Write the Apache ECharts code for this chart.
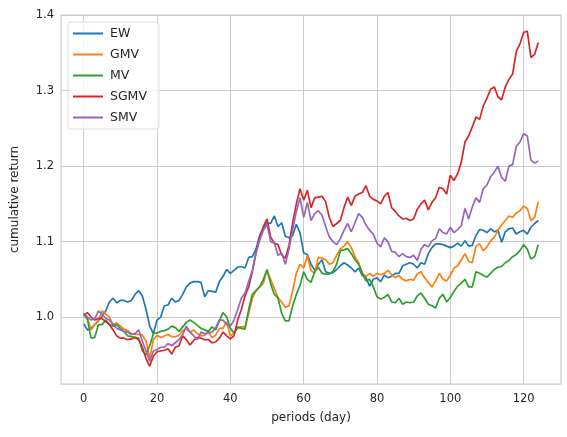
<!DOCTYPE html>
<html>
<head>
<meta charset="utf-8">
<script src="https://cdn.jsdelivr.net/npm/echarts@6/dist/echarts.min.js"></script>
<style>
  html, body { margin: 0; padding: 0; background: #fff; }
  #chart { width: 567px; height: 437px; }
</style>
</head>
<body>
<div id="chart"></div>
<script>
// series values, one value per day (0..124)
const EW = [
  0.991, 0.983, 0.985, 0.990, 0.995, 1.001, 1.008, 1.020, 1.025, 1.019,
  1.022, 1.022, 1.020, 1.022, 1.030, 1.035, 1.028, 1.010, 0.988, 0.978,
  0.996, 1.000, 1.015, 1.016, 1.025, 1.020, 1.022, 1.030, 1.040, 1.045,
  1.047, 1.047, 1.046, 1.027, 1.035, 1.034, 1.033, 1.047, 1.054, 1.063,
  1.058, 1.062, 1.066, 1.067, 1.065, 1.079, 1.080, 1.090, 1.108, 1.118,
  1.125, 1.124, 1.134, 1.120, 1.125, 1.107, 1.105, 1.108, 1.123, 1.112,
  1.085, 1.083, 1.070, 1.062, 1.070, 1.076, 1.060, 1.058, 1.059, 1.063,
  1.068, 1.072, 1.069, 1.065, 1.060, 1.065, 1.055, 1.052, 1.041, 1.050,
  1.052, 1.047, 1.056, 1.052, 1.054, 1.058, 1.058, 1.068, 1.070, 1.072,
  1.070, 1.065, 1.072, 1.070, 1.084, 1.092, 1.097, 1.097, 1.096, 1.094,
  1.092, 1.094, 1.098, 1.094, 1.101, 1.094, 1.095, 1.108, 1.116, 1.115,
  1.112, 1.117, 1.113, 1.115, 1.099, 1.113, 1.117, 1.118, 1.110, 1.113,
  1.115, 1.110, 1.119, 1.124, 1.128
];
const GMV = [
  1.005, 0.998, 0.983, 0.990, 0.996, 1.008, 1.004, 1.000, 0.990, 0.992,
  0.988, 0.984, 0.982, 0.978, 0.977, 0.977, 0.976, 0.968, 0.945, 0.970,
  0.976, 0.973, 0.975, 0.977, 0.974, 0.974, 0.976, 0.982, 0.984, 0.980,
  0.983, 0.978, 0.975, 0.976, 0.980, 0.973, 0.976, 0.985, 0.985, 0.994,
  0.975, 0.979, 0.985, 0.987, 0.987, 1.005, 1.025, 1.035, 1.040, 1.045,
  1.062, 1.050, 1.038, 1.026, 1.020, 1.013, 1.015, 1.035, 1.058, 1.070,
  1.065, 1.081, 1.062, 1.058, 1.079, 1.078, 1.076, 1.070, 1.072, 1.082,
  1.090, 1.094, 1.100, 1.092, 1.080, 1.072, 1.058, 1.054, 1.058, 1.054,
  1.058, 1.056, 1.058, 1.062, 1.056, 1.052, 1.055, 1.050, 1.048, 1.050,
  1.049, 1.057, 1.060, 1.052, 1.046, 1.040, 1.048, 1.058, 1.050, 1.048,
  1.055, 1.065, 1.068, 1.076, 1.084, 1.074, 1.072, 1.094, 1.097, 1.088,
  1.093, 1.101, 1.106, 1.115, 1.122, 1.128, 1.134, 1.132, 1.138, 1.141,
  1.147, 1.144, 1.128, 1.132, 1.153
];
const MV = [
  1.004, 0.997, 0.972, 0.973, 0.990, 0.990, 0.996, 0.990, 0.988, 0.990,
  0.985, 0.981, 0.975, 0.974, 0.973, 0.972, 0.955, 0.950, 0.962, 0.978,
  0.979, 0.981, 0.982, 0.984, 0.988, 0.986, 0.981, 0.987, 0.993, 0.996,
  0.993, 0.989, 0.985, 0.983, 0.981, 0.987, 0.983, 0.995, 1.006, 1.000,
  0.985, 0.979, 0.987, 0.985, 0.984, 1.010, 1.030, 1.035, 1.040, 1.050,
  1.063, 1.044, 1.030, 1.025, 1.005, 0.995, 0.995, 1.015, 1.030, 1.042,
  1.060, 1.050, 1.046, 1.060, 1.066, 1.058, 1.057, 1.057, 1.061, 1.070,
  1.088, 1.089, 1.091, 1.084, 1.076, 1.070, 1.058, 1.048, 1.050, 1.040,
  1.027, 1.024, 1.026, 1.030, 1.020, 1.019, 1.025, 1.017, 1.020, 1.019,
  1.020, 1.028, 1.032, 1.025, 1.017, 1.015, 1.012, 1.025, 1.030, 1.020,
  1.026, 1.034, 1.041, 1.045, 1.050, 1.040, 1.040, 1.060, 1.058, 1.055,
  1.053, 1.058, 1.063, 1.066, 1.067, 1.072, 1.075, 1.080, 1.083, 1.088,
  1.096, 1.090, 1.077, 1.080, 1.096
];
const SGMV = [
  1.002, 1.006, 1.000, 0.996, 0.998, 0.998, 0.994, 0.990, 0.983, 0.975,
  0.972, 0.972, 0.970, 0.971, 0.973, 0.970, 0.960, 0.945, 0.935, 0.948,
  0.954, 0.955, 0.956, 0.958, 0.951, 0.960, 0.962, 0.975, 0.970, 0.963,
  0.969, 0.973, 0.972, 0.970, 0.970, 0.966, 0.967, 0.972, 0.980, 0.975,
  0.971, 0.975, 0.996, 1.010, 1.028, 1.040, 1.060, 1.085, 1.106, 1.120,
  1.130, 1.106, 1.098, 1.096, 1.082, 1.078, 1.095, 1.125, 1.150, 1.170,
  1.155, 1.168, 1.145, 1.158, 1.159, 1.160, 1.153, 1.132, 1.120, 1.124,
  1.128, 1.145, 1.159, 1.148, 1.160, 1.163, 1.165, 1.174, 1.160, 1.156,
  1.154, 1.150, 1.160, 1.165, 1.145, 1.140, 1.134, 1.130, 1.131, 1.128,
  1.130, 1.143, 1.150, 1.155, 1.142, 1.152, 1.158, 1.172, 1.170, 1.163,
  1.188, 1.181, 1.190, 1.205, 1.232, 1.240, 1.252, 1.265, 1.262, 1.280,
  1.290, 1.302, 1.305, 1.292, 1.288, 1.305, 1.315, 1.322, 1.352, 1.362,
  1.377, 1.379, 1.344, 1.348, 1.364
];
const SMV = [
  1.005, 1.000, 0.996, 0.998, 1.008, 1.004, 0.998, 0.996, 0.990, 0.985,
  0.983, 0.981, 0.980, 0.977, 0.978, 0.983, 0.968, 0.955, 0.941, 0.955,
  0.957, 0.960, 0.960, 0.965, 0.962, 0.966, 0.970, 0.977, 0.988, 0.980,
  0.975, 0.970, 0.980, 0.978, 0.979, 0.980, 0.986, 0.996, 0.996, 0.990,
  0.988, 0.996, 1.010, 1.025, 1.032, 1.047, 1.062, 1.085, 1.102, 1.115,
  1.123, 1.100, 1.098, 1.082, 1.085, 1.070, 1.090, 1.116, 1.140, 1.158,
  1.132, 1.152, 1.128, 1.137, 1.141, 1.135, 1.120, 1.106, 1.100, 1.096,
  1.104, 1.115, 1.124, 1.113, 1.125, 1.137, 1.132, 1.122, 1.115, 1.110,
  1.098, 1.093, 1.105, 1.100, 1.087, 1.086, 1.080, 1.084, 1.080, 1.079,
  1.082, 1.075, 1.090, 1.096, 1.093, 1.101, 1.104, 1.117, 1.112, 1.110,
  1.119, 1.112, 1.116, 1.121, 1.144, 1.130, 1.146, 1.158, 1.152, 1.170,
  1.175, 1.186, 1.192, 1.200, 1.185, 1.180, 1.200, 1.202, 1.226, 1.232,
  1.243, 1.240, 1.208, 1.204, 1.207
];

const names = ['EW', 'GMV', 'MV', 'SGMV', 'SMV'];
const colors = ['#1f77b4', '#ff7f0e', '#2ca02c', '#d62728', '#9467bd'];
const xTicks = [0, 20, 40, 60, 80, 100, 120];
const yTicks = [1.0, 1.1, 1.2, 1.3, 1.4];

const font = 'DejaVu Sans';
const textColor = '#262626';
const gridColor = '#cccccc';

const chart = echarts.init(document.getElementById('chart'), null, { renderer: 'canvas' });

const seriesValues = [EW, GMV, MV, SGMV, SMV];
const series = seriesValues.map((vals, k) => ({
    name: names[k],
    type: 'line',
    data: vals.map((v, i) => [i, v]),
    showSymbol: false,
    symbol: 'none',
    lineStyle: { color: colors[k], width: 1.7 },
    itemStyle: { color: colors[k] },
    z: 2 + k
}));

const option = {
    animation: false,
    backgroundColor: '#ffffff',
    grid: {
        left: 61, top: 15, width: 500, height: 369,
        show: true, borderColor: gridColor, borderWidth: 1.25, backgroundColor: 'transparent'
    },
    legend: {
        orient: 'vertical',
        left: 68, top: 22,
        padding: [5, 12, 5, 5],
        itemWidth: 30, itemHeight: 2,
        itemGap: 8,
        icon: 'rect',
        backgroundColor: 'rgba(255,255,255,0.8)',
        borderColor: '#dddddd', borderWidth: 1, borderRadius: 3,
        textStyle: { fontFamily: font, fontSize: 12.5, color: textColor, padding: [0, 0, 0, 2] },
        data: names
    },
    xAxis: {
        type: 'value',
        min: -6.2, max: 130.2,
        name: 'periods (day)', nameLocation: 'middle', nameGap: 28,
        nameTextStyle: { fontFamily: font, fontSize: 12, color: textColor },
        axisLine: { show: false },
        axisTick: { show: false, customValues: xTicks },
        axisLabel: {
            customValues: xTicks, margin: 9,
            fontFamily: font, fontSize: 11.5, color: textColor,
            formatter: v => String(v)
        },
        splitLine: { show: true, lineStyle: { color: gridColor, width: 1 } }
    },
    yAxis: {
        type: 'value',
        min: 0.9113, max: 1.4003,
        name: 'cumulative return', nameLocation: 'middle', nameGap: 40,
        nameTextStyle: { fontFamily: font, fontSize: 12, color: textColor },
        axisLine: { show: false },
        axisTick: { show: false, customValues: yTicks },
        axisLabel: {
            customValues: yTicks, margin: 7,
            fontFamily: font, fontSize: 11.5, color: textColor,
            formatter: v => v.toFixed(1)
        },
        splitLine: { show: true, lineStyle: { color: gridColor, width: 1 } }
    },
    series: series
};

chart.setOption(option);
</script>
</body>
</html>
